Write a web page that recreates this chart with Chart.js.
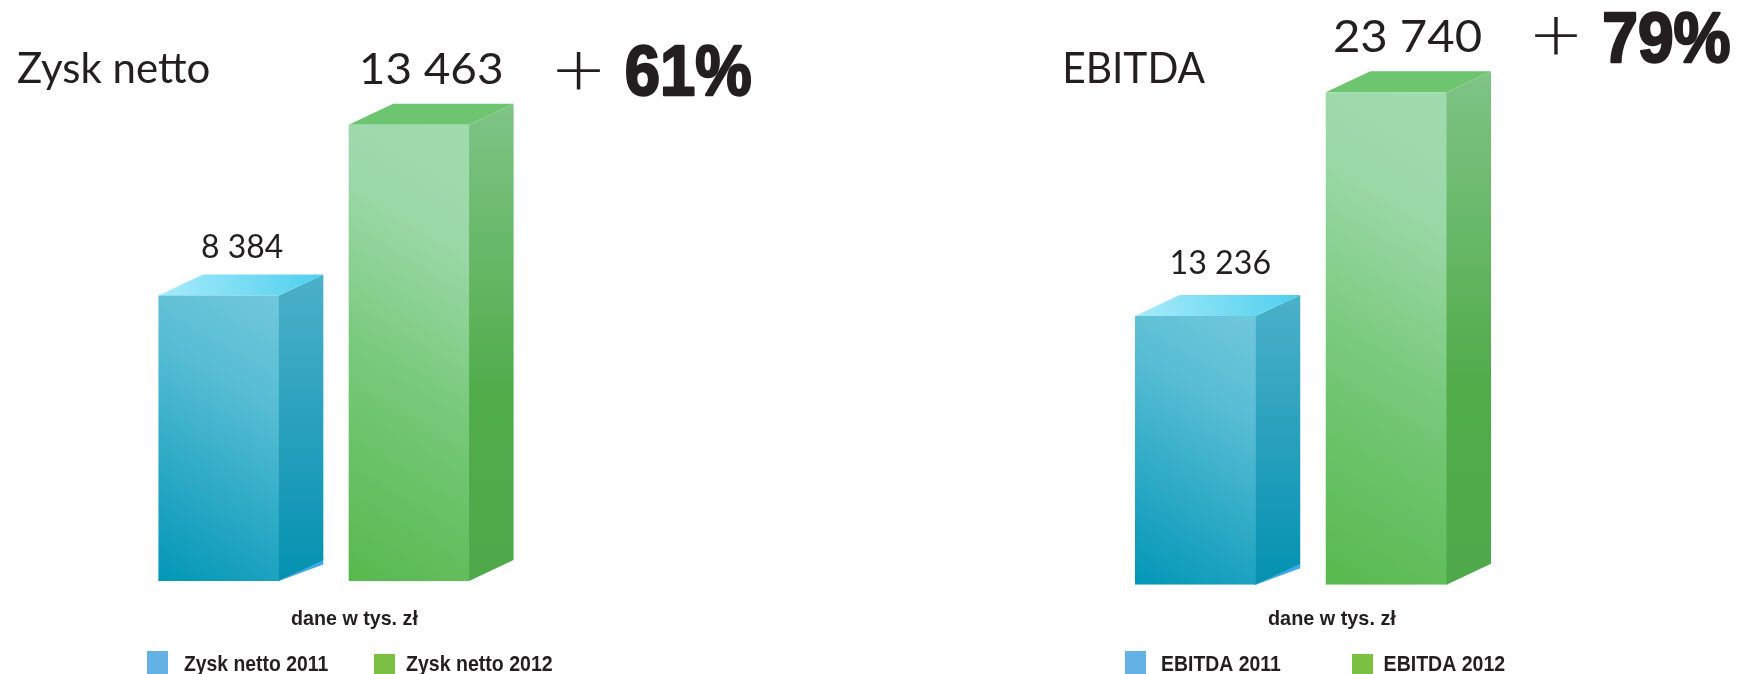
<!DOCTYPE html>
<html lang="pl">
<head>
<meta charset="utf-8">
<script src="https://cdn.jsdelivr.net/npm/chart.js@4"></script>
<style>
html,body{margin:0;padding:0;background:#fff;width:1737px;height:674px;overflow:hidden}
.box{position:absolute;top:0;height:674px}
#a{left:0;width:868px}
#b{left:868px;width:869px}
</style>
</head>
<body>
<div class="box" id="a"><canvas id="c1"></canvas></div>
<div class="box" id="b"><canvas id="c2"></canvas></div>
<script>
const categoriesNet = ['Zysk netto 2011', 'Zysk netto 2012'];
const valuesNet = [8384, 13463];
const categoriesEbitda = ['EBITDA 2011', 'EBITDA 2012'];
const valuesEbitda = [13236, 23740];
const titleNet = 'Zysk netto';
const titleEbitda = 'EBITDA';
const changeNet = '61%';
const changeEbitda = '79%';
const unitText = 'dane w tys. zł';

const INK = '#231f20';
const HEAD = '"Lato", "Open Sans", sans-serif';
const BOLD = '"Liberation Sans", Arial, sans-serif';
const NARROW = '"Liberation Sans Narrow", "Liberation Sans", sans-serif';
const BAR_SHARE = 0.633;

const fmt = v => String(v).replace(/\B(?=(\d{3})+$)/g, ' ');

function stops(g, list){ list.forEach(([p, c]) => g.addColorStop(p, c)); return g; }

const PALETTE = [
  { front:[[0,'#6fc7db'],[0.3,'#58bdd4'],[1,'#0096b6']],
    side:[[0,'#4cb0c9'],[1,'#0491b1']],
    top:[[0,'#a8ebf9'],[1,'#4dcfee']], sliver:'#3fa9e6' },
  { front:[[0,'#a0dbae'],[0.22,'#9bd8a7'],[0.55,'#77c97a'],[1,'#56b84b']],
    side:[[0,'#7ec486'],[0.62,'#50ab49'],[1,'#4fa94a']],
    top:[[0,'#6ec570'],[1,'#6ec570']], sliver:null }
];

function frontFill(context){
  const chart = context.chart, i = context.dataIndex;
  const pal = PALETTE[i];
  const xs = chart.scales.x, ys = chart.scales.y;
  if(!xs || !ys || !chart.chartArea) return pal.front[0][1];
  const cx = xs.getPixelForValue(i);
  const w = chart.chartArea.width / chart.data.labels.length * BAR_SHARE;
  const T = ys.getPixelForValue(chart.data.datasets[0].data[i]);
  const B = ys.getPixelForValue(ys.min);
  const h = B - T;
  const vx = -0.51, vy = 0.86;
  const len = w * -vx + h * vy;
  const sx = cx + w / 2, sy = T + 0.02 * h;
  return stops(chart.ctx.createLinearGradient(sx, sy, sx + vx * len, sy + vy * len), pal.front);
}

const box3d = {
  id: 'box3d',
  beforeDatasetsDraw(chart, args, opts){
    const { ctx } = chart;
    chart.getDatasetMeta(0).data.forEach((el, i) => {
      const pal = PALETTE[i];
      const L = el.x - el.width / 2, R = el.x + el.width / 2, T = el.y, B = el.base;
      const dx = opts.dx, dy = opts.dy;
      ctx.save();
      if(pal.sliver){
        ctx.fillStyle = pal.sliver;
        ctx.beginPath();
        ctx.moveTo(R, B); ctx.lineTo(R + dx, B - dy + 4.5); ctx.lineTo(R + dx, B - dy - 1); ctx.closePath();
        ctx.fill();
      }
      ctx.fillStyle = stops(ctx.createLinearGradient(0, T - dy, 0, B), pal.side);
      ctx.beginPath();
      ctx.moveTo(R - 1, T); ctx.lineTo(R, T); ctx.lineTo(R + dx, T - dy); ctx.lineTo(R + dx, B - dy); ctx.lineTo(R, B); ctx.lineTo(R - 1, B);
      ctx.closePath(); ctx.fill();
      ctx.fillStyle = stops(ctx.createLinearGradient(L, T, R + dx, T - dy), pal.top);
      ctx.beginPath();
      ctx.moveTo(L, T); ctx.lineTo(L + dx, T - dy); ctx.lineTo(R + dx, T - dy); ctx.lineTo(R, T);
      ctx.closePath(); ctx.fill();
      ctx.restore();
    });
  }
};

function put(ctx, text, x, base, font, width, opt){
  opt = opt || {};
  ctx.save();
  ctx.font = font;
  ctx.textAlign = 'left';
  ctx.textBaseline = 'alphabetic';
  ctx.fillStyle = opt.color || INK;
  const m = ctx.measureText(text);
  const left = m.actualBoundingBoxLeft, ink = m.actualBoundingBoxRight + left;
  const sx = width / ink;
  ctx.translate(x, base);
  ctx.scale(sx, 1);
  ctx.fillText(text, left, 0);
  if(opt.stroke){
    ctx.lineJoin = 'round';
    ctx.lineWidth = opt.stroke;
    ctx.strokeStyle = opt.color || INK;
    ctx.strokeText(text, left, 0);
  }
  ctx.restore();
}

const captions = {
  id: 'captions',
  afterDraw(chart, args, o){
    const { ctx } = chart;
    const X = o.originX;
    const meta = chart.getDatasetMeta(0).data;
    chart.data.datasets[0].data.forEach((v, i) => {
      const L = o.values[i];
      put(ctx, fmt(v), L.x - X, meta[i].y - o.dy - L.gap, `400 ${L.size}px ${HEAD}`, L.w);
    });
    put(ctx, o.title.text, o.title.x - X, o.title.y, `400 43px ${HEAD}`, o.title.w);
    put(ctx, '+', o.plus.x - X, o.plus.y, `300 76px ${HEAD}`, o.plus.w);
    put(ctx, o.pct.text, o.pct.x - X, o.pct.y, `700 ${o.pct.size}px ${NARROW}`, o.pct.w, { stroke: 2.4 });
    put(ctx, unitText, o.unit.x - X, o.unit.y, `700 21px ${BOLD}`, o.unit.w);
    chart.data.labels.forEach((lab, i) => {
      const K = o.legend[i];
      ctx.fillStyle = o.legendColors[i];
      ctx.fillRect(K.bx - X, K.by, 21, 26);
      put(ctx, lab, K.tx - X, K.ty, `700 22px ${BOLD}`, K.tw);
    });
  }
};

Chart.defaults.animation = false;

function build(id, labels, data, pad, yMin, yMax, capt){
  return new Chart(document.getElementById(id), {
    type: 'bar',
    data: { labels, datasets: [{ data, base: yMin, backgroundColor: frontFill, borderWidth: 0,
      barPercentage: BAR_SHARE, categoryPercentage: 1 }] },
    options: {
      responsive: true, maintainAspectRatio: false, animation: false,
      layout: { padding: pad },
      scales: {
        x: { display: false, offset: true },
        y: { display: false, min: yMin, max: yMax }
      },
      plugins: {
        legend: { display: false }, tooltip: { enabled: false }, title: { display: false },
        box3d: { dx: 44.5, dy: 21 },
        captions: capt
      }
    },
    plugins: [box3d, captions]
  });
}

const LEGEND_COLORS = ['#63b1e5', '#7bc043'];

document.fonts.ready.then(() => {
  build('c1', categoriesNet, valuesNet,
    { left: 123.5, right: 868 - 504, top: 100, bottom: 93 }, -102, 14196, {
      originX: 0, dy: 21,
      values: [ { x: 202, w: 81, size: 33, gap: 17 }, { x: 362, w: 139.5, size: 43, gap: 20 } ],
      title: { text: titleNet, x: 18, y: 82.5, w: 191 },
      plus: { x: 557, y: 96, w: 43 },
      pct: { text: changeNet, x: 626.5, y: 95, w: 124, size: 70 },
      unit: { x: 291, y: 625, w: 127 },
      legendColors: LEGEND_COLORS,
      legend: [ { bx: 147, by: 651, tx: 184, ty: 671, tw: 144 }, { bx: 374, by: 654, tx: 406, ty: 671, tw: 146.5 } ]
    });
  build('c2', categoriesEbitda, valuesEbitda,
    { left: 232, right: 869 - 613.5, top: 70, bottom: 89.3 }, 614, 24790, {
      originX: 868, dy: 21,
      values: [ { x: 1171.5, w: 98.5, size: 33, gap: 21 }, { x: 1335, w: 146, size: 45, gap: 19 } ],
      title: { text: titleEbitda, x: 1065, y: 82.5, w: 140 },
      plus: { x: 1535, y: 61, w: 42 },
      pct: { text: changeEbitda, x: 1605, y: 62, w: 124.5, size: 70 },
      unit: { x: 1268, y: 625, w: 128 },
      legendColors: LEGEND_COLORS,
      legend: [ { bx: 1125, by: 651, tx: 1162, ty: 671, tw: 118.5 }, { bx: 1352, by: 654, tx: 1384.5, ty: 671, tw: 120.5 } ]
    });
});
</script>
</body>
</html>
